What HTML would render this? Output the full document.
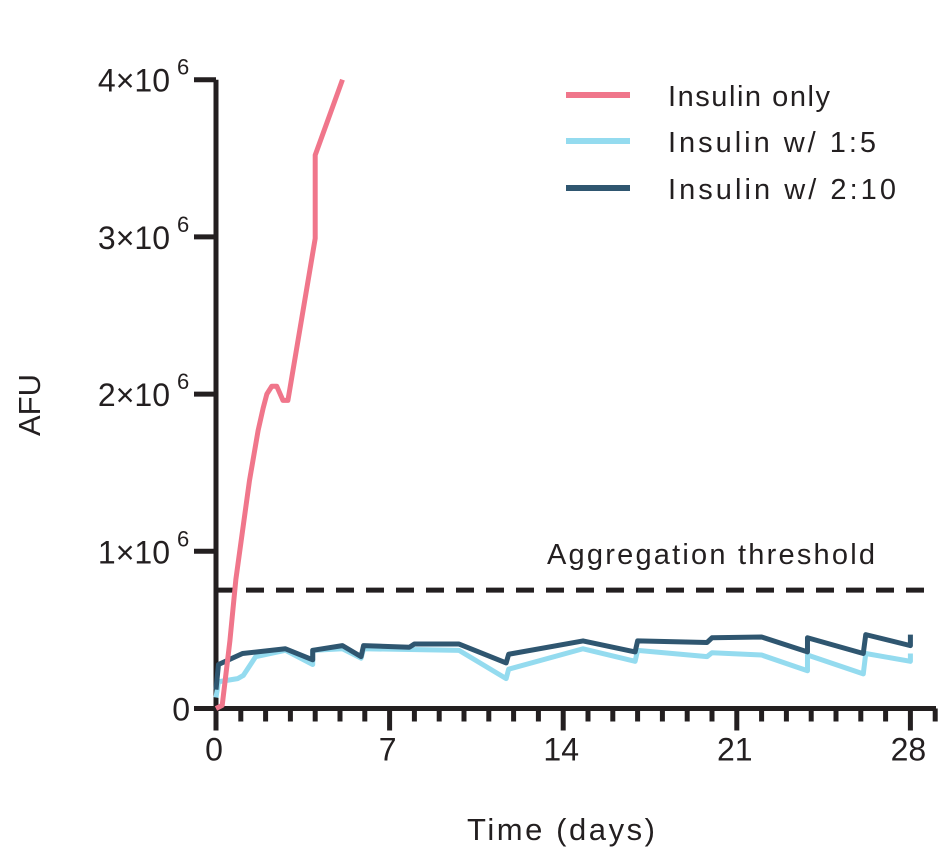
<!DOCTYPE html>
<html><head><meta charset="utf-8"><style>
body{margin:0;background:#fff}
svg text{font-family:"Liberation Sans",sans-serif;fill:#231f20}
</style></head><body>
<svg id="chart" width="941" height="857" viewBox="0 0 941 857" xmlns="http://www.w3.org/2000/svg">
<g id="axes"></g>
<g id="series"></g>
<text x="0" y="0" font-size="31" text-anchor="middle" textLength="62" transform="translate(40,405) rotate(-90)">AFU</text>
<text x="467" y="840" font-size="31" textLength="188">Time (days)</text>
<text x="547" y="564" font-size="29" textLength="328">Aggregation threshold</text>
<g>
<line x1="566" y1="95" x2="630" y2="95" stroke="#f0768b" stroke-width="6"/>
<text x="668" y="106" font-size="29" textLength="162">Insulin only</text>
<line x1="566" y1="141" x2="630" y2="141" stroke="#94dbef" stroke-width="6"/>
<text x="668" y="152" font-size="29" textLength="208">Insulin w/ 1:5</text>
<line x1="566" y1="188" x2="630" y2="188" stroke="#2f5670" stroke-width="6"/>
<text x="668" y="199" font-size="29" textLength="228">Insulin w/ 2:10</text>
</g>
</svg>
<script>
const xTicks=[0,7,14,21,28];
const yTicks=[0,1,2,3,4];
const yTickLabels=["0","1×10","2×10","3×10","4×10"];
const threshold=0.753;
const onlyDays=[0,0.25,0.56,0.8,1.07,1.35,1.7,1.9,2.05,2.25,2.45,2.7,2.9,4.0,4.0,5.1];
const onlyVals=[0,0.02,0.43,0.82,1.13,1.45,1.77,1.91,2.0,2.05,2.05,1.96,1.96,2.99,3.52,4.0];
const lightDays=[0,0.1,0.87,1.1,1.6,2.8,3.9,3.9,5.1,5.85,5.95,9.8,11.7,11.8,14.8,16.9,17.0,19.8,20.0,22.0,23.85,23.85,26.1,26.2,28.0,28.0];
const lightVals=[0.07,0.17,0.19,0.21,0.33,0.37,0.28,0.37,0.38,0.32,0.38,0.37,0.19,0.25,0.38,0.30,0.37,0.33,0.355,0.34,0.24,0.34,0.22,0.35,0.30,0.35];
const darkDays=[0,0.1,1.07,2.8,3.9,3.9,5.1,5.85,5.95,7.8,8.0,9.8,11.7,11.8,14.8,16.9,17.0,19.8,20.0,22.0,23.85,23.85,26.1,26.2,28.0,28.0];
const darkVals=[0.12,0.28,0.35,0.38,0.31,0.37,0.40,0.33,0.40,0.39,0.41,0.41,0.29,0.345,0.43,0.36,0.43,0.42,0.45,0.455,0.36,0.45,0.35,0.47,0.40,0.47];

const NS="http://www.w3.org/2000/svg";
const X0=216,XD=24.8,Y0=708.5,YU=157.2;
function sx(d){return X0+d*XD;}
function sy(v){return Y0-v*YU;}
function mk(tag,attrs,parent){const e=document.createElementNS(NS,tag);for(const k in attrs)e.setAttribute(k,attrs[k]);parent.appendChild(e);return e;}
const axes=document.getElementById('axes');
const ser=document.getElementById('series');

let e=mk('line',{x1:X0,y1:sy(4),x2:X0,y2:Y0+2,stroke:'#231f20','stroke-width':5},axes);


e=mk('line',{x1:X0-2,y1:Y0,x2:936,y2:Y0,stroke:'#231f20','stroke-width':5},axes);


for(let d=0;d<=29;d++){
  const major=d%7===0;
  e=mk('line',{x1:sx(d),y1:Y0,x2:sx(d),y2:Y0+(major?22:13),stroke:'#231f20','stroke-width':5},axes);
  
  
}
xTicks.forEach(t=>{
  e=mk('text',{x:sx(t)-2,y:Y0+52,'font-size':32,'text-anchor':'middle'},axes);
  e.textContent=t;
  
  
});
yTicks.forEach((t,i)=>{
  e=mk('line',{x1:X0-22,y1:sy(t),x2:X0,y2:sy(t),stroke:'#231f20','stroke-width':5},axes);
  
  
  e=mk('text',{x:t===0?190:170,y:sy(t)+12,'font-size':32,'text-anchor':'end'},axes);
  e.textContent=yTickLabels[i];
  
  
  if(t!==0){
    e=mk('text',{x:177,y:sy(t)-5,'font-size':22},axes);
    e.textContent='6';
    
    
  }
});
e=mk('line',{x1:X0,y1:sy(threshold),x2:936,y2:sy(threshold),stroke:'#231f20','stroke-width':5,'stroke-dasharray':'18 12'},axes);



function line(days,vals,color,name){
  const p=mk('polyline',{points:days.map((d,i)=>sx(d)+','+sy(vals[i])).join(' '),fill:'none',stroke:color,'stroke-width':5,'stroke-linejoin':'round'},ser);
  
  
}
line(lightDays,lightVals,'#94dbef','series-insulin-1-5');
line(darkDays,darkVals,'#2f5670','series-insulin-2-10');
line(onlyDays,onlyVals,'#f0768b','series-insulin-only');
</script>
</body></html>
